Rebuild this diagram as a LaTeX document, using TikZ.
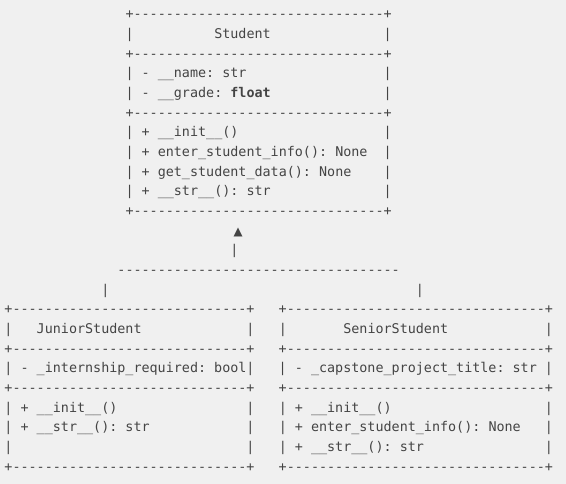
\documentclass[tikz,border=0pt]{standalone}
\usepackage{fontspec}
\setmonofont{DejaVu Sans Mono}
\newfontfamily\symfont{DejaVu Sans}
\ExplSyntaxOn
\cs_new:Npn \Dn #1 {\prg_replicate:nn{#1}{-\kern0pt}}
\ExplSyntaxOff
\newlength\cw
\AtBeginDocument{\settowidth{\cw}{\ttfamily\fontsize{10.05}{12}\selectfont x}}
\newcommand\Sp[1]{\kern#1\cw}
\definecolor{bg}{HTML}{F0F0F0}
\definecolor{ink}{HTML}{444444}
\tikzset{
  ascii/.style={anchor=base west,inner sep=0pt,outer sep=0pt,text=ink,
    font=\ttfamily\fontsize{10.05}{12}\selectfont\frenchspacing},
  tri/.style={anchor=base,inner sep=0pt,outer sep=0pt,text=ink,
    font=\symfont\fontsize{8.8}{10}\selectfont}
}
\begin{document}
\begin{tikzpicture}
\path[fill=bg,use as bounding box] (0,0) rectangle (424.5pt,-363pt);
\begin{scope}[x=6.0525pt,y=-14.7525pt,shift={(3.349pt,-14.025pt)}]
% Student
\node[ascii] (s0) at (15,0) {+\Dn{31}+};
\node[ascii] (s1) at (15,1) {|\Sp{10}Student\Sp{14}|};
\node[ascii] (s2) at (15,2) {+\Dn{31}+};
\node[ascii] (s3) at (15,3) {| - \_\_name: str\Sp{17}|};
\node[ascii] (s4) at (15,4) {| - \_\_grade: \textbf{float}\Sp{14}|};
\node[ascii] (s5) at (15,5) {+\Dn{31}+};
\node[ascii] (s6) at (15,6) {| + \_\_init\_\_()\Sp{18}|};
\node[ascii] (s7) at (15,7) {| + enter\_student\_info(): None\Sp{2}|};
\node[ascii] (s8) at (15,8) {| + get\_student\_data(): None\Sp{4}|};
\node[ascii] (s9) at (15,9) {| + \_\_str\_\_(): str\Sp{14}|};
\node[ascii] (s10) at (15,10) {+\Dn{31}+};
% inheritance
\node[tri] (arrow) at (28.97,11.03) {▲};
\node[ascii] (stem) at (28,12) {|};
\node[ascii] (bar) at (14,13) {\Dn{35}};
\node[ascii] (drops) at (12,14) {|\Sp{38}|};
% Junior / Senior
\node[ascii] (b15) at (0,15) {+\Dn{29}+\Sp{3}+\Dn{32}+};
\node[ascii] (b16) at (0,16) {|\Sp{3}JuniorStudent\Sp{13}|\Sp{3}|\Sp{7}SeniorStudent\Sp{12}|};
\node[ascii] (b17) at (0,17) {+\Dn{29}+\Sp{3}+\Dn{32}+};
\node[ascii] (b18) at (0,18) {| - \_internship\_required: bool|\Sp{3}| - \_capstone\_project\_title: str |};
\node[ascii] (b19) at (0,19) {+\Dn{29}+\Sp{3}+\Dn{32}+};
\node[ascii] (b20) at (0,20) {| + \_\_init\_\_()\Sp{16}|\Sp{3}| + \_\_init\_\_()\Sp{19}|};
\node[ascii] (b21) at (0,21) {| + \_\_str\_\_(): str\Sp{12}|\Sp{3}| + enter\_student\_info(): None\Sp{3}|};
\node[ascii] (b22) at (0,22) {|\Sp{29}|\Sp{3}| + \_\_str\_\_(): str\Sp{15}|};
\node[ascii] (b23) at (0,23) {+\Dn{29}+\Sp{3}+\Dn{32}+};
\end{scope}
\end{tikzpicture}
\end{document}
